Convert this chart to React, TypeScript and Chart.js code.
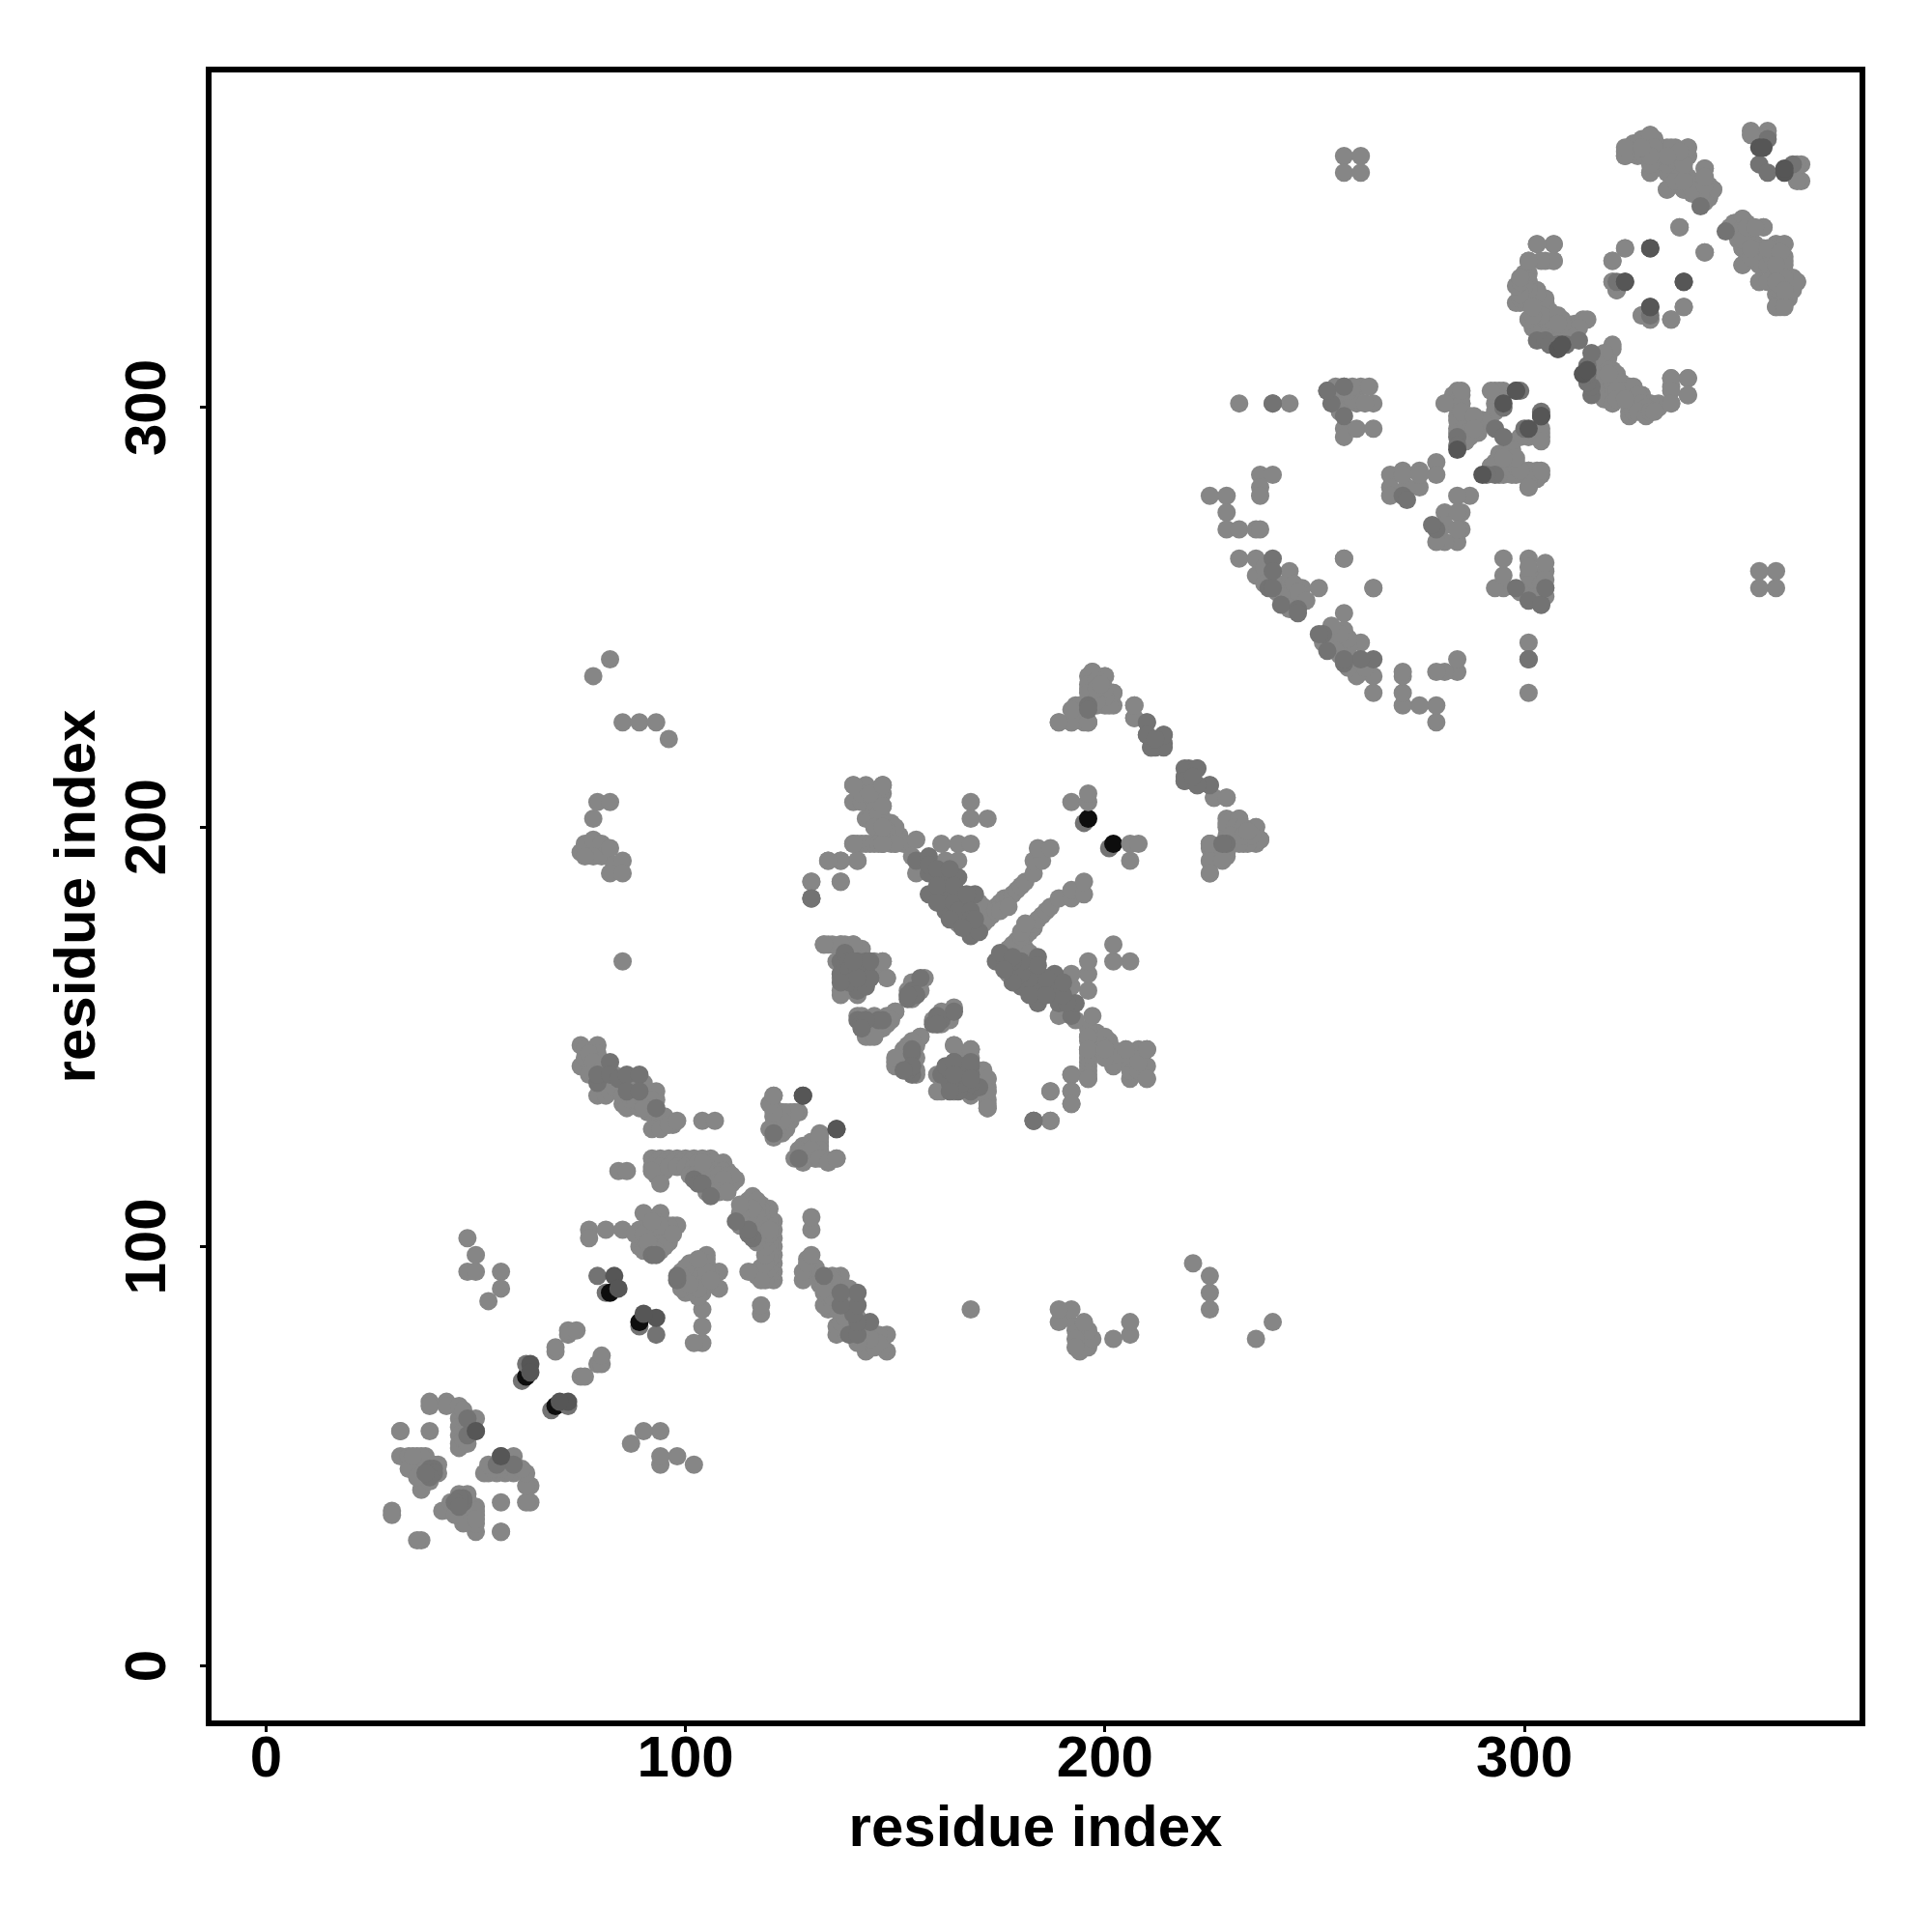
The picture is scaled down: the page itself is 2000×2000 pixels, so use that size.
import React, { useEffect, useRef } from "react";
import { Chart, registerables } from "chart.js";

Chart.register(...registerables);

type Pair = [number, number];

// Contacts above the diagonal, [i, j]; the map is symmetric so each is drawn twice.
const blackContacts: Pair[] = [
  [62, 69], [82, 89], [196, 202],
];

const underBlackContacts: Pair[] = [
  [195, 201], [81, 89], [61, 68],
];

const lightContacts: Pair[] = [
  [48, 102], [50, 98], [48, 94], [50, 94], [56, 94], [56, 90], [53, 87],
  [72, 79], [72, 80], [74, 80], [69, 75], [69, 76],
  [39, 63], [39, 62], [43, 63], [43, 62], [46, 62], [46, 59], [46, 57], [46, 55], [46, 53], [46, 52], [47, 61], [47, 56], [47, 54],
  [48, 57], [48, 53], [50, 59], [32, 56], [39, 56], [32, 50], [34, 50], [36, 50], [38, 50],
  [35, 48], [36, 48], [37, 47], [38, 47], [36, 46], [37, 44], [38, 45], [34, 47], [37, 42], [39, 44],
  [41, 46], [41, 48], [40, 48], [37, 50], [35, 50], [36, 45], [30, 37], [30, 36], [32, 56],
  [75, 148], [76, 147], [79, 148], [75, 143], [76, 145], [79, 146], [79, 143], [79, 136],
  [77, 146], [78, 144], [77, 141], [80, 142], [80, 138], [81, 136], [81, 141], [83, 141], [84, 137], [85, 134], [85, 139],
  [82, 137], [83, 138], [85, 136], [86, 133], [89, 133], [91, 137], [93, 137], [93, 135], [91, 132],
  [87, 139], [87, 135], [88, 139], [88, 135], [90, 135], [90, 139], [92, 135], [92, 133], [90, 133], [94, 130], [95, 131], [97, 129],
  [92, 128], [94, 128], [96, 129], [98, 130], [104, 130], [107, 130],
  [92, 121], [94, 121], [96, 121], [98, 121], [100, 121], [102, 121], [104, 121], [106, 121],
  [93, 120], [95, 120], [97, 120], [99, 120], [101, 120], [92, 119], [94, 119], [95, 118], [93, 117], [94, 117],
  [92, 118], [96, 119], [98, 119], [100, 119], [102, 119], [103, 120], [105, 120], [107, 120], [109, 120],
  [101, 117], [103, 117], [105, 116], [106, 115], [108, 115], [110, 115], [111, 115], [112, 116], [110, 118], [107, 118], [109, 118], [105, 118],
  [84, 118], [86, 118], [94, 115], [102, 117], [104, 117], [106, 117], [108, 117], [110, 117], [111, 117],
  [107, 115], [109, 114], [105, 113], [107, 113], [104, 120], [109, 116], [108, 113], [110, 113],
  [77, 104], [77, 102], [81, 104], [85, 104], [90, 108], [94, 108], [89, 104], [91, 104], [93, 106],
  [95, 104], [97, 105], [98, 105], [96, 103], [94, 102], [92, 102], [90, 101], [89, 100], [91, 99],
  [94, 99], [93, 100], [96, 101], [88, 103], [91, 102], [92, 104], [93, 103], [95, 102], [96, 105], [94, 105], [92, 100],
  [90, 103], [92, 106], [95, 100], [97, 103], [90, 99], [93, 99], [91, 101],
  [121, 136], [121, 133], [121, 131], [123, 132], [125, 132], [127, 132], [121, 129], [123, 128], [125, 130],
  [122, 130], [122, 128], [124, 128], [124, 132], [126, 132], [129, 122], [131, 124], [133, 121], [127, 123], [131, 121],
  [132, 126], [132, 123], [128, 122], [130, 123], [126, 121], [128, 120], [132, 121], [134, 120], [136, 121],
  [140, 210], [143, 210], [147, 210], [140, 206], [143, 206], [147, 208], [147, 205], [143, 202], [147, 202],
  [142, 206], [142, 208], [145, 206], [145, 204], [144, 202], [146, 203], [149, 201], [151, 198], [147, 200], [145, 200],
  [150, 200], [148, 199], [140, 196], [141, 196], [142, 196], [143, 196], [144, 196], [145, 196], [146, 196], [147, 196], [149, 196], [150, 196], [152, 196], [155, 197],
  [154, 193], [155, 189], [161, 196], [165, 196], [168, 196], [162, 192], [165, 192], [165, 177], [170, 179],
  [172, 178], [174, 181], [175, 182], [176, 183], [177, 183], [178, 184], [179, 185], [180, 186], [181, 187], [183, 189], [183, 192], [185, 192], [184, 195], [187, 195],
  [173, 179], [171, 181], [172, 180], [170, 182], [171, 177], [180, 174], [175, 180], [177, 181],
  [168, 206], [168, 202], [172, 202], [134, 192], [137, 192], [141, 192], [130, 187], [130, 183], [137, 187],
  [192, 206], [196, 206], [196, 208], [133, 172], [137, 172], [140, 172], [140, 171], [147, 168], [148, 164], [137, 161],
  [134, 172], [135, 172], [138, 172], [142, 171], [146, 167], [145, 168],
  [144, 150], [143, 151], [141, 155], [145, 152], [148, 155], [150, 156], [154, 161], [153, 160], [156, 150], [154, 146],
  [142, 155], [144, 154], [145, 155], [146, 152], [147, 152], [148, 153], [142, 152], [144, 152], [143, 150], [145, 150], [149, 154],
  [153, 161], [155, 162], [155, 160], [156, 161], [154, 159], [154, 163], [157, 164],
  [164, 148], [168, 147], [160, 141], [160, 137], [164, 137], [168, 136], [172, 140], [172, 137], [172, 133],
  [192, 141], [196, 140], [192, 137], [192, 134], [187, 137], [183, 130], [187, 130], [147, 196], [150, 196],
  [147, 210], [144, 208], [196, 147], [200, 147], [205, 147], [210, 147], [140, 210],
  [197, 237], [200, 236], [196, 236], [196, 233], [202, 232], [200, 229], [202, 229], [193, 229], [189, 225], [192, 225], [196, 225],
  [194, 229], [198, 234], [198, 232], [199, 235], [198, 229], [200, 232], [194, 227], [195, 225],
  [207, 229], [207, 226], [211, 219], [225, 196], [229, 201], [232, 202], [236, 200], [237, 197], [234, 196], [232, 196],
  [231, 200], [233, 200], [235, 198], [230, 198], [229, 196], [233, 198], [227, 194], [226, 193], [234, 199],
  [225, 192], [228, 192], [225, 189], [225, 196], [226, 207], [229, 207], [225, 210],
  [232, 301], [244, 301], [257, 305], [261, 305], [257, 301], [260, 301], [264, 301], [257, 295], [257, 293], [260, 295], [264, 295],
  [255, 303], [255, 305], [256, 302], [258, 303], [259, 302], [256, 299], [262, 301], [258, 304], [259, 305], [263, 305],
  [237, 284], [240, 284], [237, 281], [237, 279], [225, 279], [229, 279], [229, 275], [229, 271], [232, 271], [236, 271], [237, 271],
  [232, 264], [236, 264], [236, 260], [244, 261], [247, 257], [251, 257], [257, 264], [264, 257],
  [238, 262], [238, 258], [240, 258], [241, 256], [243, 258], [244, 256], [245, 254], [243, 254], [244, 252], [245, 258], [246, 256], [248, 254], [242, 255], [240, 259],
  [281, 301], [284, 304], [293, 304], [295, 304], [293, 301], [284, 298], [284, 295], [287, 298], [290, 297], [287, 293],
  [285, 296], [286, 294], [286, 297], [285, 298], [288, 295], [288, 297], [289, 294], [285, 292], [286, 292], [283, 303], [285, 303], [285, 301], [283, 301],
  [299, 293], [297, 290], [294, 288], [301, 285], [304, 285], [301, 281], [297, 284], [294, 284], [292, 286], [304, 294], [304, 292],
  [295, 286], [296, 286], [293, 286], [298, 286], [299, 285], [296, 288], [298, 288], [295, 288],
  [268, 284], [271, 285], [275, 285], [279, 287], [268, 281], [268, 279], [275, 281], [279, 284], [275, 284], [272, 281], [271, 284],
  [257, 360], [261, 360], [257, 356], [261, 356], [78, 236], [82, 240], [85, 225], [89, 225], [93, 225], [96, 221],
  [78, 202], [79, 206], [82, 206], [75, 194], [76, 196], [78, 197], [80, 196], [80, 193], [82, 195], [83, 191], [85, 192], [82, 189], [85, 189], [78, 193], [76, 193],
  [85, 168],
  [324, 361], [326, 363], [324, 360], [330, 365], [330, 361], [330, 356], [334, 362], [334, 357], [339, 362], [339, 360], [338, 357],
  [325, 362], [327, 362], [328, 361], [329, 362], [331, 362], [332, 360], [333, 359], [332, 362], [335, 361], [336, 360], [337, 358], [336, 356], [335, 355],
  [337, 353], [339, 355], [340, 354], [341, 352], [342, 352], [343, 350], [344, 351], [345, 352], [342, 350], [336, 362], [338, 361], [328, 364], [331, 364],
  [343, 357], [334, 352], [338, 352], [344, 353], [344, 350], [340, 351],
  [354, 366], [358, 366], [365, 358], [365, 354],
  [337, 343], [324, 338], [343, 337], [321, 335], [321, 330], [322, 328], [328, 322], [330, 321], [338, 324], [335, 321],
  [303, 339], [307, 339], [301, 335], [305, 335], [307, 335], [299, 330], [301, 330], [299, 328], [299, 325], [301, 327],
  [300, 332], [300, 329], [302, 327], [303, 325], [304, 323], [303, 322], [306, 323], [307, 320], [307, 318], [306, 318], [308, 316], [310, 318], [312, 320], [314, 321], [301, 332], [300, 326], [302, 323], [304, 320],
  [303, 328], [305, 325], [301, 321], [302, 319], [305, 321], [309, 321], [309, 318], [315, 321], [313, 319], [311, 317],
  [350, 344], [352, 345], [357, 343], [352, 338], [352, 334], [356, 334], [356, 330], [360, 339], [362, 339], [362, 335], [365, 330],
  [349, 343], [351, 342], [353, 341], [352, 340], [353, 343], [355, 343], [354, 336], [354, 338], [358, 336], [358, 334], [359, 336], [360, 332], [361, 330], [360, 327], [361, 326], [362, 331], [358, 338], [361, 337], [358, 330],
  [360, 324], [362, 324], [320, 309], [321, 306], [321, 301], [325, 305], [325, 301], [328, 303], [330, 301], [325, 298],
  [322, 308], [323, 306], [324, 304], [326, 305], [327, 303], [328, 301], [329, 300], [326, 299], [322, 304], [322, 302], [327, 299], [329, 298], [330, 299], [331, 299], [324, 302],
  [335, 307], [339, 307], [335, 304], [335, 301], [339, 303], [308, 320], [360, 334], [360, 330], [362, 328],
];

const midContacts: Pair[] = [
  [48, 59], [48, 55], [39, 47], [40, 47], [39, 46], [40, 46], [39, 45], [38, 46], [62, 72], [79, 93],
  [56, 50], [79, 139], [79, 141], [82, 144], [82, 141], [84, 140], [86, 141], [86, 137], [89, 141], [89, 137], [93, 133],
  [92, 98], [93, 98], [102, 116], [103, 115], [104, 115], [106, 112], [121, 127], [130, 183],
  [155, 192], [158, 193], [158, 189], [158, 184], [162, 188], [165, 188], [162, 184], [165, 184], [162, 180], [169, 184],
  [158, 191], [160, 190], [160, 186], [160, 182], [163, 190], [164, 186], [164, 182], [166, 178], [167, 180], [167, 184], [165, 180], [163, 178],
  [168, 180], [169, 176], [167, 176], [168, 174], [170, 175], [168, 178], [169, 178], [166, 176],
  [137, 168], [143, 168], [137, 165], [140, 165], [144, 164], [141, 161], [154, 161], [156, 164], [153, 159],
  [138, 170], [139, 168], [141, 168], [139, 166], [141, 166], [143, 166], [139, 163], [142, 163], [137, 163], [143, 162],
  [141, 154], [142, 153], [143, 154], [146, 154], [147, 154], [160, 155], [160, 153], [154, 143], [152, 142], [164, 144], [168, 144], [164, 141], [168, 140],
  [196, 229], [214, 222], [214, 220], [212, 219], [210, 225], [210, 222], [219, 214], [222, 214], [219, 211], [222, 210],
  [221, 212], [228, 196], [240, 301], [253, 304], [254, 301], [257, 298], [240, 264], [240, 261], [242, 253],
  [239, 257], [246, 252], [251, 246], [257, 240],
  [271, 279], [284, 293], [284, 291], [293, 295], [300, 295], [304, 253], [278, 272], [301, 240], [305, 257],
  [299, 304], [303, 316], [305, 316], [308, 314], [330, 322], [348, 342],
  [306, 315], [310, 315], [313, 316], [315, 308], [356, 358], [358, 364],
];

const darkContacts: Pair[] = [
  [50, 56], [63, 72], [63, 70], [83, 93], [84, 90], [128, 136], [136, 128], [284, 290], [295, 301],
  [298, 304], [304, 298], [324, 330], [330, 338], [338, 330], [330, 324], [356, 362], [362, 357], [308, 314], [309, 315],
];

const grayLight = "#868686";
const grayMid = "#737373";
const grayDark = "#565656";
const grayBlack = "#0d0d0d";

const tickValues = [0, 100, 200, 300];
const axisTitle = "residue index";

function mirrored(pairs: Pair[]) {
  const out: { x: number; y: number }[] = [];
  for (const [i, j] of pairs) {
    out.push({ x: i, y: j });
    out.push({ x: j, y: i });
  }
  return out;
}

const frame = {
  id: "frame",
  afterDraw(chart: Chart) {
    const { ctx, chartArea } = chart;
    ctx.save();
    ctx.strokeStyle = "#000";
    ctx.lineWidth = 6;
    ctx.strokeRect(chartArea.left, chartArea.top, chartArea.right - chartArea.left, chartArea.bottom - chartArea.top);
    ctx.restore();
  },
};

export default function App() {
  const ref = useRef<HTMLCanvasElement>(null);
  useEffect(() => {
    const family = "'Liberation Sans', Arial, sans-serif";
    const tickFont = { family, size: 60, weight: "bold" as const };
    const titleFont = { family, size: 60, weight: "bold" as const };
    const layer = (data: Pair[], color: string) => ({
      data: mirrored(data),
      backgroundColor: color,
      borderColor: color,
      borderWidth: 0,
      pointRadius: 9.5,
      pointHoverRadius: 9.5,
    });
    const grid = {
      display: true,
      drawOnChartArea: false,
      drawTicks: true,
      tickLength: 9,
      lineWidth: 3,
      color: "#000",
    };
    const chart = new Chart(ref.current!, {
      type: "scatter",
      data: {
        datasets: [
          layer(darkContacts, grayDark),
          layer(midContacts, grayMid),
          layer(lightContacts, grayLight),
          layer(blackContacts, grayBlack),
          layer(underBlackContacts, grayMid),
        ],
      },
      options: {
        responsive: false,
        animation: false,
        events: [],
        layout: { padding: { top: 72, right: 72, left: 0, bottom: 0 } },
        plugins: { legend: { display: false }, tooltip: { enabled: false } },
        scales: {
          x: {
            type: "linear",
            min: -13.7,
            max: 380.6,
            afterFit: (s: any) => { s.height = 216; },
            afterBuildTicks: (s: any) => { s.ticks = tickValues.map((value) => ({ value })); },
            grid,
            border: { display: false },
            ticks: { color: "#000", font: tickFont, padding: -7, maxRotation: 0 },
            title: { display: true, text: axisTitle, color: "#000", font: titleFont, padding: { top: 0, bottom: 69.5 } },
          },
          y: {
            type: "linear",
            min: -13.66,
            max: 380.6,
            afterFit: (s: any) => { s.width = 216; },
            afterBuildTicks: (s: any) => { s.ticks = tickValues.map((value) => ({ value })); },
            grid,
            border: { display: false },
            ticks: { color: "#000", font: tickFont, padding: 2, minRotation: 90, maxRotation: 90, crossAlign: "center" },
            title: { display: true, text: axisTitle, color: "#000", font: titleFont, padding: { top: 45, bottom: 0 } },
          },
        },
      },
      plugins: [frame],
    } as any);
    return () => chart.destroy();
  }, []);
  return (
    <div style={{ position: "absolute", left: 0, top: 0, width: 2000, height: 2000, background: "#fff" }}>
      <canvas ref={ref} width={2000} height={2000} style={{ display: "block" }} />
    </div>
  );
}
